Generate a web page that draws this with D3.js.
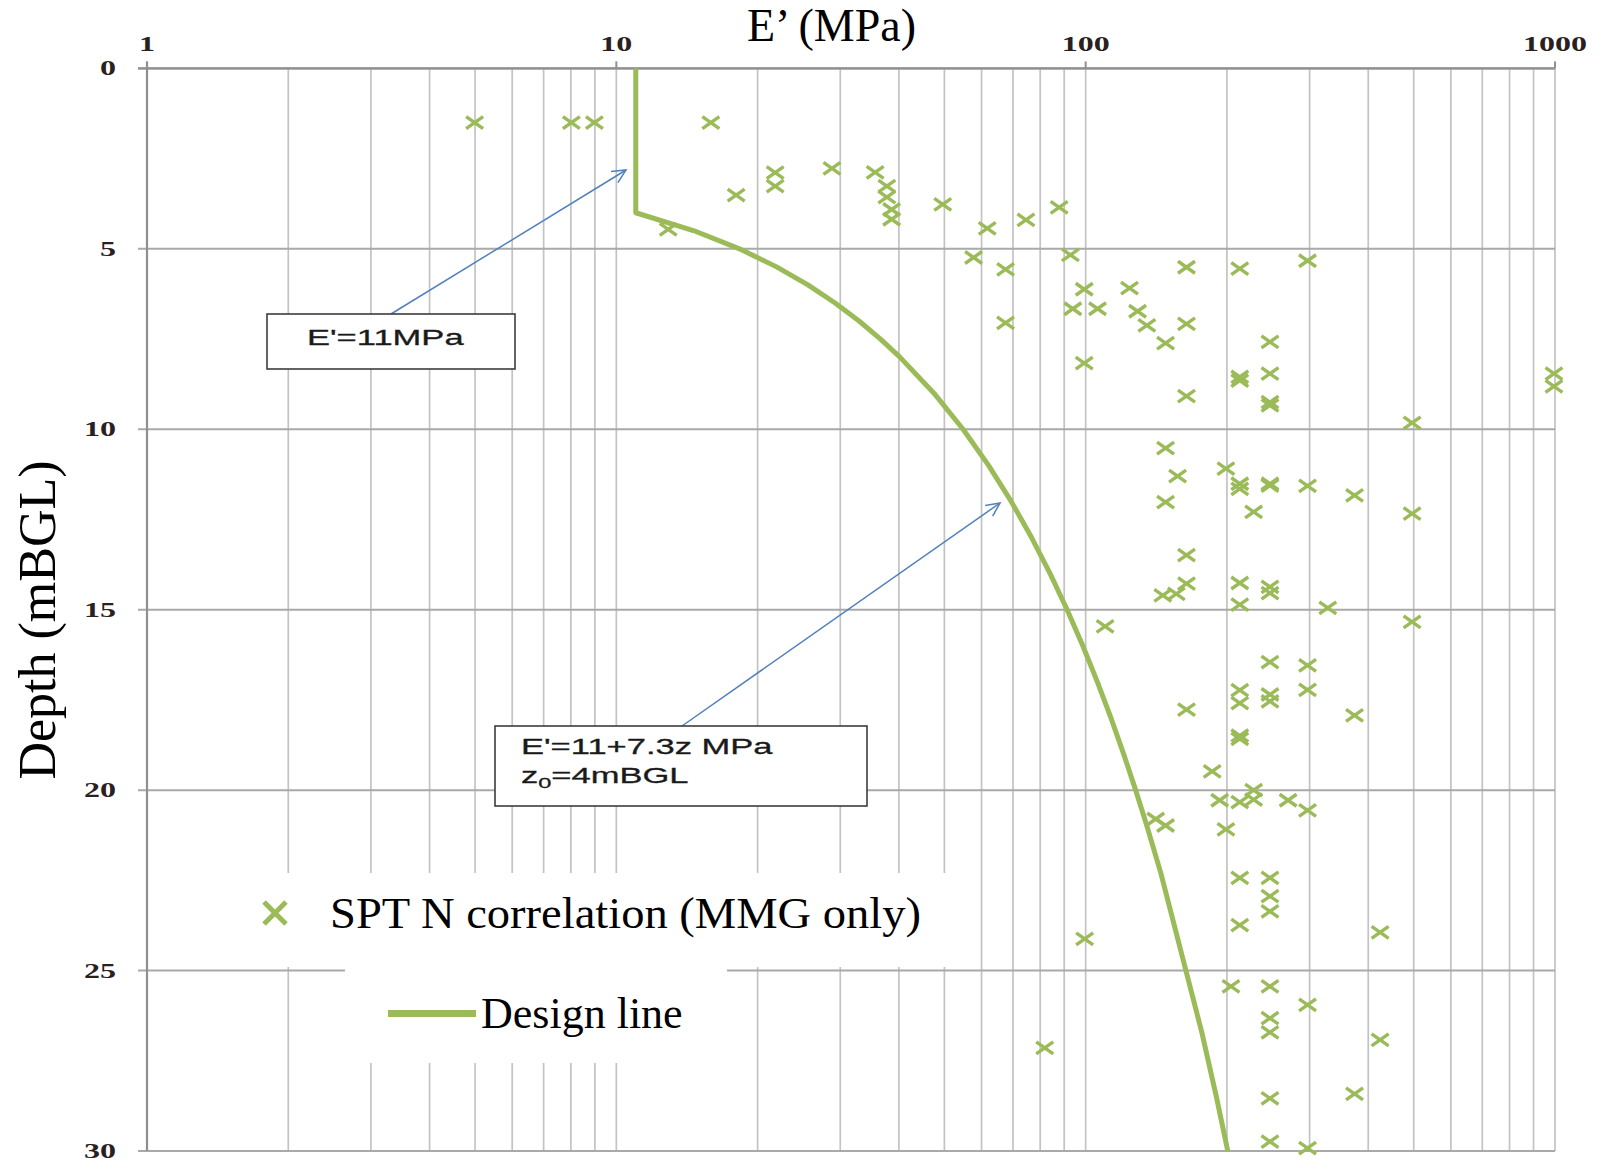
<!DOCTYPE html>
<html>
<head>
<meta charset="utf-8">
<script src="https://cdn.jsdelivr.net/npm/d3@7"></script>
<style>
  body { margin: 0; background: #ffffff; }
  svg { display: block; }
</style>
</head>
<body>
<svg id="chart" width="1600" height="1162"></svg>
<script>
// SPT N correlation points (MMG only): drained modulus E' (MPa) against depth (mBGL)
const sptModulus = [
  28.8, 35.6, 37.7, 37.7, 38.6, 38.6, 49.6, 61.7, 74.6, 87.8,
  57.7, 67.5, 92.8, 164, 213, 297, 99.3, 124, 93.9, 106,
  129, 67.5, 135, 164, 148, 247, 99.3, 213, 213, 247,
  995, 995, 164, 247, 247, 496, 148, 199, 157, 213,
  213, 247, 247, 297, 374, 148, 228, 496, 164, 164,
  146, 156, 213, 247, 247, 213, 328, 496, 110, 247,
  297, 213, 213, 247, 247, 297, 164, 374, 213, 213,
  186, 228, 193, 213, 228, 270, 297, 141, 148, 199,
  213, 247, 247, 247, 213, 424, 99.5, 204, 247, 297,
  247, 247, 424, 81.8, 374, 247, 247, 297,
  4.99, 8.02, 8.98, 15.9, 21.8, 21.8, 18.0, 12.9
];
const sptDepth = [
  2.77, 2.88, 3.26, 3.57, 3.91, 4.18, 3.77, 4.43, 4.20, 3.85,
  5.24, 5.57, 5.17, 5.51, 5.55, 5.33, 6.12, 6.09, 6.66, 6.66,
  6.73, 7.05, 7.12, 7.08, 7.61, 7.58, 8.17, 8.55, 8.65, 8.46,
  8.46, 8.81, 9.08, 9.25, 9.34, 9.82, 10.52, 11.09, 11.30, 11.51,
  11.65, 11.51, 11.56, 11.57, 11.83, 12.02, 12.29, 12.34, 13.49, 14.28,
  14.60, 14.56, 14.26, 14.37, 14.54, 14.86, 14.95, 15.34, 15.46, 16.45,
  16.54, 17.23, 17.59, 17.35, 17.54, 17.22, 17.77, 17.93, 18.49, 18.58,
  19.48, 20.00, 20.28, 20.33, 20.26, 20.28, 20.56, 20.80, 20.98, 21.09,
  22.43, 22.43, 22.94, 23.36, 23.74, 23.94, 24.12, 25.44, 25.44, 25.95,
  26.32, 26.71, 26.92, 27.14, 28.42, 28.54, 29.74, 29.92,
  1.50, 1.50, 1.50, 1.50, 2.89, 3.26, 3.51, 4.46
];

// Design line: E' = 11 MPa down to 4 mBGL, then E' = 11 + 7.3z MPa
const designDepth   = [0, 4, 4.5, 5, 5.5, 6, 6.5, 7, 7.5, 8, 9, 10, 11, 12, 13, 14, 15, 16, 17, 18, 19, 20, 21, 22.3, 26.7, 28.5, 30];
const designModulus = [11, 11, 14.65, 18.3, 21.95, 25.6, 29.25, 32.9, 36.55, 40.2, 47.5, 54.8, 62.1, 69.4, 76.7, 84.0, 91.3, 98.6, 105.9, 113.2, 120.5, 127.8, 135.1, 144.6, 176.7, 189.9, 200.8];

const xTickValues = [1, 10, 100, 1000];
const yTickValues = [0, 5, 10, 15, 20, 25, 30];

const xTitle = "E\u2019 (MPa)";
const yTitle = "Depth (mBGL)";
const legendScatter = "SPT N correlation (MMG only)";
const legendLine = "Design line";
const noteTop = "E'=11MPa";
const noteBottom1 = "E'=11+7.3z MPa";

const green = "#9bbb59";
const arrowBlue = "#4f81bd";

const svg = d3.select("#chart");

const x = d3.scaleLog().domain([1, 1000]).range([147, 1555]);
const y = d3.scaleLinear().domain([0, 30]).range([68.4, 1151]);

// ---- grid ----
const grid = svg.append("g");
grid.selectAll("line.v")
  .data(x.ticks().filter(v => v > 1))
  .join("line")
  .attr("x1", d => x(d)).attr("x2", d => x(d))
  .attr("y1", y(0)).attr("y2", y(30))
  .attr("stroke", "#c3c3c3").attr("stroke-width", 1.7);

grid.selectAll("line.h")
  .data(yTickValues)
  .join("line")
  .attr("x1", x(1) - 9).attr("x2", x(1000))
  .attr("y1", d => y(d)).attr("y2", d => y(d))
  .attr("stroke", "#a9a9a9").attr("stroke-width", 2);

// top tick marks at the decades
grid.selectAll("line.t")
  .data(xTickValues)
  .join("line")
  .attr("x1", d => x(d)).attr("x2", d => x(d))
  .attr("y1", y(0) - 7).attr("y2", y(0))
  .attr("stroke", "#8f8f8f").attr("stroke-width", 2);

// axis lines
svg.append("line")
  .attr("x1", x(1)).attr("x2", x(1)).attr("y1", y(0) - 7).attr("y2", y(30))
  .attr("stroke", "#8f8f8f").attr("stroke-width", 2.2);
svg.append("line")
  .attr("x1", x(1) - 9).attr("x2", x(1000)).attr("y1", y(0)).attr("y2", y(0))
  .attr("stroke", "#8f8f8f").attr("stroke-width", 2.2);

// ---- tick labels (wide serif digits) ----
function stretchedText(sel, factor) {
  sel.each(function () {
    const w = this.getComputedTextLength();
    d3.select(this).attr("textLength", w * factor).attr("lengthAdjust", "spacingAndGlyphs");
  });
}

svg.append("g").selectAll("text")
  .data(xTickValues)
  .join("text")
  .attr("x", d => x(d)).attr("y", 51)
  .attr("text-anchor", "middle")
  .attr("font-family", "Liberation Serif, serif")
  .attr("font-size", 20)
  .attr("font-weight", "bold")
  .attr("fill", "#2a2020")
  .text(d => d3.format("d")(d))
  .call(stretchedText, 1.6);

svg.append("g").selectAll("text")
  .data(yTickValues)
  .join("text")
  .attr("x", 116).attr("y", d => y(d) + 7)
  .attr("text-anchor", "end")
  .attr("font-family", "Liberation Serif, serif")
  .attr("font-size", 20)
  .attr("font-weight", "bold")
  .attr("fill", "#2a2020")
  .text(d => d)
  .call(stretchedText, 1.6);

// ---- axis titles ----
svg.append("text")
  .attr("x", 747).attr("y", 41)
  .attr("font-family", "Liberation Serif, serif")
  .attr("font-size", 46)
  .attr("fill", "#000")
  .text(xTitle);

svg.append("text")
  .attr("transform", "translate(55,620) rotate(-90)")
  .attr("text-anchor", "middle")
  .attr("font-family", "Liberation Serif, serif")
  .attr("font-size", 52)
  .attr("fill", "#000")
  .text(yTitle);

// ---- legend backgrounds ----
svg.append("rect").attr("x", 250).attr("y", 873).attr("width", 712).attr("height", 94).attr("fill", "#fff");
svg.append("rect").attr("x", 345).attr("y", 940).attr("width", 382).attr("height", 123).attr("fill", "#fff");

// ---- design line ----
const line = d3.line()
  .x((d, i) => x(designModulus[i]))
  .y(d => y(d));
svg.append("path")
  .attr("d", line(designDepth))
  .attr("fill", "none")
  .attr("stroke", green)
  .attr("stroke-width", 5)
  .attr("stroke-linejoin", "round");

// ---- SPT points ----
const crossPath = (hw, hh) => `M${-hw},${-hh}L${hw},${hh}M${-hw},${hh}L${hw},${-hh}`;
svg.append("g").selectAll("path")
  .data(sptDepth.map((d, i) => ({ e: sptModulus[i], z: d })))
  .join("path")
  .attr("transform", d => `translate(${x(d.e)},${y(d.z)})`)
  .attr("d", crossPath(8.5, 6))
  .attr("fill", "none")
  .attr("stroke", green)
  .attr("stroke-width", 3.4);

// ---- legend ----
svg.append("path")
  .attr("transform", "translate(275,913)")
  .attr("d", crossPath(11, 11))
  .attr("stroke", green).attr("stroke-width", 5).attr("fill", "none");
svg.append("text")
  .attr("x", 330).attr("y", 928)
  .attr("font-family", "Liberation Serif, serif")
  .attr("font-size", 44)
  .attr("fill", "#000")
  .attr("textLength", 591).attr("lengthAdjust", "spacingAndGlyphs")
  .text(legendScatter);
svg.append("line")
  .attr("x1", 388).attr("x2", 476).attr("y1", 1013.5).attr("y2", 1013.5)
  .attr("stroke", green).attr("stroke-width", 7);
svg.append("text")
  .attr("x", 481).attr("y", 1028)
  .attr("font-family", "Liberation Serif, serif")
  .attr("font-size", 44)
  .attr("fill", "#000")
  .text(legendLine);

// ---- annotations ----
function arrow(x1, y1, x2, y2) {
  const g = svg.append("g").attr("stroke", arrowBlue).attr("stroke-width", 1.5).attr("fill", "none");
  g.append("line").attr("x1", x1).attr("y1", y1).attr("x2", x2).attr("y2", y2);
  const a = Math.atan2(y1 - y2, x1 - x2);
  const len = 15, spread = 0.45;
  const p = [a - spread, a + spread].map(t => [x2 + len * Math.cos(t), y2 + len * Math.sin(t)]);
  g.append("path").attr("d", `M${p[0][0]},${p[0][1]}L${x2},${y2}L${p[1][0]},${p[1][1]}`);
}

arrow(391, 314, 626, 170);
arrow(682, 726, 1000, 503);

// note boxes
svg.append("rect").attr("x", 267).attr("y", 314).attr("width", 248).attr("height", 55)
  .attr("fill", "#fff").attr("stroke", "#3c3c3c").attr("stroke-width", 1.6);
svg.append("rect").attr("x", 495).attr("y", 726).attr("width", 372).attr("height", 80)
  .attr("fill", "#fff").attr("stroke", "#3c3c3c").attr("stroke-width", 1.6);

const noteFont = "Liberation Sans, Arial, sans-serif";
const stretch = 1.57;

svg.append("g").attr("transform", `translate(307,345) scale(${stretch},1)`)
  .append("text")
  .attr("font-family", noteFont).attr("font-size", 22).attr("fill", "#1a1a1a")
  .attr("stroke", "#1a1a1a").attr("stroke-width", 0.3)
  .text(noteTop);

svg.append("g").attr("transform", `translate(521,754) scale(${stretch},1)`)
  .append("text")
  .attr("font-family", noteFont).attr("font-size", 22).attr("fill", "#1a1a1a")
  .attr("stroke", "#1a1a1a").attr("stroke-width", 0.3)
  .text(noteBottom1);

const z0 = svg.append("g").attr("transform", `translate(521,783) scale(${stretch},1)`)
  .append("text")
  .attr("font-family", noteFont).attr("font-size", 22).attr("fill", "#1a1a1a")
  .attr("stroke", "#1a1a1a").attr("stroke-width", 0.3);
z0.append("tspan").text("z");
z0.append("tspan").attr("font-size", 15).attr("dy", 5).text("0");
z0.append("tspan").attr("dy", -5).text("=4mBGL");
</script>
</body>
</html>
